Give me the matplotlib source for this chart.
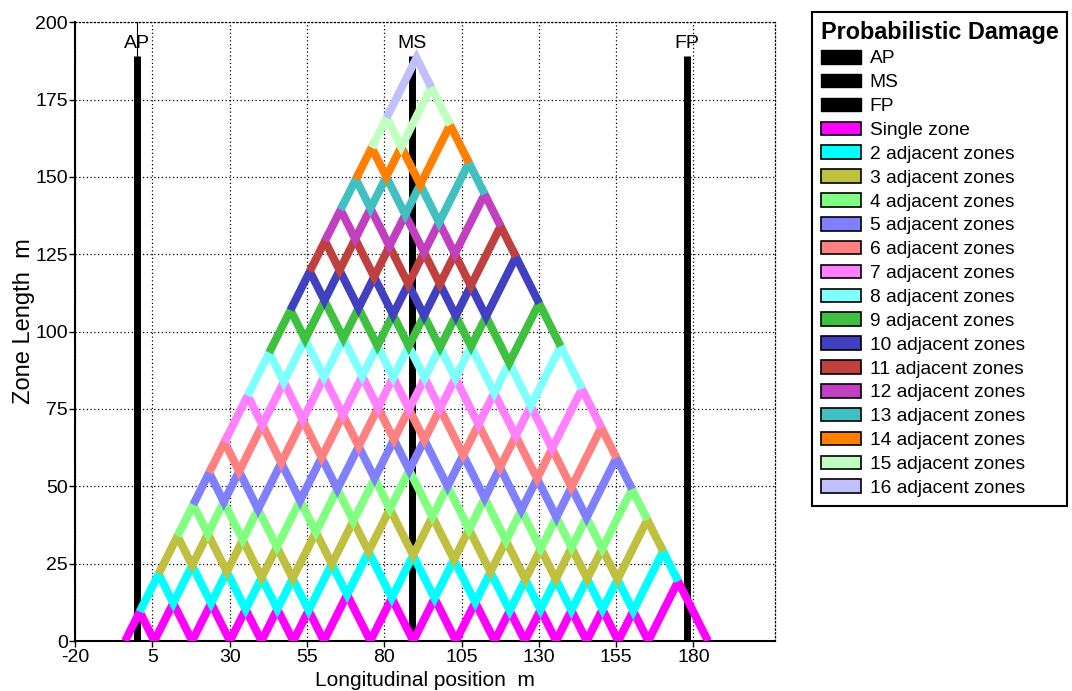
import matplotlib.pyplot as plt
from matplotlib.patches import Patch

plt.rcParams["font.family"] = ["Liberation Sans", "DejaVu Sans"]
plt.rcParams["axes.unicode_minus"] = False

# zone boundaries along the ship (m), aft to fore
zone_bounds = [-3.8, 5.65, 17.9, 30.1, 40.3, 50.6, 60.5, 75.5, 89.4,
               103.2, 115.7, 125.5, 135.6, 145.5, 155.7, 165.4, 184.7]

# reference positions
ref_names = ["AP", "MS", "FP"]
ref_pos = [0.0, 89.0, 178.0]
ref_top = 189.0

row_colors = ["#ff00ff", "#00ffff", "#bfbf40", "#80ff80", "#8080ff", "#ff8080",
              "#ff80ff", "#80ffff", "#40c040", "#4040c0", "#c04040", "#c040c0",
              "#40c0c0", "#ff8000", "#c0ffc0", "#c0c0ff"]
row_labels = ["Single zone"] + [f"{n} adjacent zones" for n in range(2, 17)]

x_ticks = [-20, 5, 30, 55, 80, 105, 130, 155, 180]
y_ticks = [0, 25, 50, 75, 100, 125, 150, 175, 200]


def apex(a, b):
    # damage from a to b -> point at mid, height = damage length
    return (a + b) / 2, b - a


fig = plt.figure(figsize=(10.72, 6.91), dpi=100)
ax = fig.add_axes([75 / 1072, 50 / 691, 700 / 1072, 618.7 / 691])

# AP / MS / FP bars
for name, x in zip(ref_names, ref_pos):
    ax.plot([x, x], [0, ref_top], color="black", lw=5, solid_capstyle="butt", zorder=2)
    ax.text(x, ref_top + 1.5, name, ha="center", va="bottom", fontsize=14)
ax.plot([ref_pos[0], ref_pos[0]], [ref_top, 200], color="black", lw=0.8, zorder=2)

# one zig-zag line per number of adjacent zones
nz = len(zone_bounds) - 1
for n in range(1, nz + 1):
    xs, ys = [], []
    for k in range(0, nz - n + 1):
        for a, b in [(zone_bounds[k], zone_bounds[k + n - 1]),
                     (zone_bounds[k], zone_bounds[k + n])]:
            px, py = apex(a, b)
            xs.append(px)
            ys.append(py)
    px, py = apex(zone_bounds[nz - n + 1], zone_bounds[nz])
    xs.append(px)
    ys.append(py)
    ax.plot(xs, ys, color=row_colors[n - 1], lw=5.8, solid_capstyle="butt",
            solid_joinstyle="miter", zorder=3)

ax.set_xlim(-20, -20 + 700 / 3.092)
ax.set_ylim(0, 200)
ax.set_xticks(x_ticks)
ax.set_yticks(y_ticks)
ax.tick_params(labelsize=14, direction="out", length=4, width=1, pad=1)
ax.tick_params(axis="x", pad=2)
ax.grid(True, color="black", linestyle=(0, (1, 2)), linewidth=0.9)
for s in ["top", "right"]:
    ax.spines[s].set_linestyle((0, (1, 2)))
    ax.spines[s].set_linewidth(0.9)
for s in ["left", "bottom"]:
    ax.spines[s].set_linewidth(1.5)
ax.set_xlabel("Longitudinal position  m", fontsize=15, labelpad=3)
ax.set_ylabel("Zone Length  m", fontsize=17)
ax.yaxis.set_label_coords(-0.057, 0.517)

handles = [Patch(facecolor="black", edgecolor="black") for _ in ref_names]
handles += [Patch(facecolor=c, edgecolor="black", linewidth=1.2) for c in row_colors]
leg = fig.legend(handles, ref_names + row_labels, loc="upper left",
                 bbox_to_anchor=(812 / 1072, 1 - 12 / 691), fontsize=13.8,
                 title="Probabilistic Damage", title_fontproperties={"weight": "bold", "size": 16.8},
                 frameon=True, fancybox=False, edgecolor="black", framealpha=1,
                 handlelength=2.1, handleheight=0.72, handletextpad=0.45,
                 labelspacing=0.33, borderpad=0.45, borderaxespad=0, alignment="left")
leg.get_frame().set_linewidth(1.5)

fig.savefig("out.png", dpi=100)
